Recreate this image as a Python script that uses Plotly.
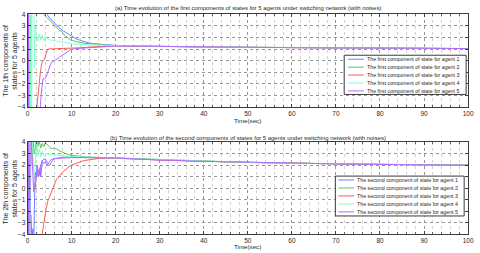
import plotly.graph_objects as go

W, H = 480, 253

# ---------------- data: first components (top panel) ----------------
a1_t = [0, 0.5, 1, 2, 3, 4, 4.6, 5, 6, 7, 8, 9, 10, 11, 12, 13, 14, 15, 17, 20, 25, 30, 40, 50, 60, 70, 80, 90, 100]
a1_y = [9, 8, 7.5, 6.5, 5.5, 4.5, 3.9, 3.7, 3.25, 2.9, 2.6, 2.35, 2.1, 1.9, 1.75, 1.62, 1.53, 1.47, 1.4, 1.32, 1.27, 1.23, 1.19, 1.16, 1.13, 1.1, 1.08, 1.06, 1.05]

a2_t = [0, 0.68, 0.72, 0.76, 1.2, 2, 3, 3.5, 4.5, 5.4, 6, 6.8, 7.3, 7.6, 8.3, 9, 9.8, 11, 12, 13, 15, 17, 20, 25, 30, 40, 50, 60, 70, 80, 90, 100]
a2_y = [30, -30, 30, 8, 7, 6, 4.8, 4.05, 3.7, 3.36, 3.05, 2.8, 2.55, 2.6, 2.24, 2.0, 1.8, 1.65, 1.55, 1.5, 1.45, 1.38, 1.31, 1.27, 1.23, 1.19, 1.16, 1.13, 1.1, 1.08, 1.06, 1.05]

a3_t = [0, 1, 2.0, 2.4, 2.9, 3.3, 3.6, 3.8, 4.2, 4.6, 5, 6, 8, 10, 12, 15, 20, 25, 30, 40, 50, 60, 70, 80, 90, 100]
a3_y = [-12, -8, -4, -2.5, -1.0, -0.1, 0.0, 0.1, 0.6, 1.0, 1.02, 1.03, 1.05, 1.08, 1.12, 1.2, 1.28, 1.25, 1.22, 1.19, 1.16, 1.13, 1.1, 1.08, 1.06, 1.05]

a4_t = [0.2, 0.35, 0.9, 1.05, 1.55, 1.7, 2.0, 2.3, 2.6, 3.0, 3.3, 3.7, 4.0, 4.5, 5, 6, 7, 8, 10, 12, 15, 20, 25, 30, 40, 50, 60, 70, 80, 90, 100]
a4_y = [-30, 30, -30, 30, -0.6, 3.0, 2.3, 1.7, 2.3, 1.8, 2.2, 1.7, 2.1, 1.9, 1.8, 1.75, 1.68, 1.6, 1.45, 1.4, 1.36, 1.31, 1.27, 1.23, 1.19, 1.16, 1.13, 1.1, 1.08, 1.06, 1.05]

a5_t = [0, 0.05, 0.1, 0.15, 0.2, 0.25, 0.3, 1, 2.5, 2.75, 3.1, 3.5, 3.8, 4.2, 4.8, 5.4, 6.1, 7, 8.3, 9.8, 11, 13, 15, 20, 25, 30, 40, 50, 60, 70, 80, 90, 100]
a5_y = [40, -40, 40, -40, 40, -40, -30, -15, -6, -4, -2.8, -1.55, -1.6, -1.4, -0.8, -0.15, 0.0, 0.25, 0.6, 0.97, 1.05, 1.1, 1.18, 1.27, 1.26, 1.23, 1.19, 1.16, 1.13, 1.1, 1.08, 1.06, 1.05]

# ---------------- data: second components (bottom panel) ----------------
b1_t = [0, 0.4, 0.6, 0.75, 1.0, 1.2, 1.4, 1.6, 1.8, 2.0, 2.2, 2.5, 2.8, 3.0, 3.3, 3.6, 4.0, 4.5, 5.0, 5.5, 6.0, 7, 8, 10, 12, 15, 20, 25, 30, 40, 50, 60, 70, 80, 90, 100]
b1_y = [10, 3, -3, -2.3, -4.5, -3.5, -5, -0.5, 0.5, 1.1, 2.0, 1.0, 1.8, 1.0, 2.3, 2.5, 2.55, 2.2, 2.0, 2.3, 2.55, 2.62, 2.68, 2.7, 2.68, 2.66, 2.62, 2.53, 2.45, 2.33, 2.24, 2.17, 2.11, 2.06, 2.03, 2.0]

b2_t = [0, 0.8, 1.0, 1.2, 1.5, 1.8, 2.0, 2.3, 2.6, 3.0, 3.3, 3.7, 4.0, 4.5, 5.0, 5.4, 6, 7, 8, 9.8, 12, 14, 17, 20, 25, 30, 40, 50, 60, 70, 80, 90, 100]
b2_y = [20, 8, 2.0, 4.5, 3.0, 3.5, 4.2, 3.6, 4.1, 3.5, 3.9, 3.6, 3.95, 3.8, 3.6, 3.4, 3.5, 3.3, 3.1, 2.85, 2.75, 2.7, 2.66, 2.62, 2.53, 2.45, 2.33, 2.24, 2.17, 2.11, 2.06, 2.03, 2.0]

b3_t = [0, 2, 3.3, 3.7, 4.2, 4.6, 5.4, 6.5, 8.0, 9.8, 12.8, 16.5, 20, 25, 30, 40, 50, 60, 70, 80, 90, 100]
b3_y = [-30, -10, -4, -2.8, -1.8, -1.1, -0.27, 0.72, 1.42, 1.98, 2.4, 2.6, 2.62, 2.53, 2.45, 2.33, 2.24, 2.17, 2.11, 2.06, 2.03, 2.0]

b4_t = [0, 0.9, 1.2, 1.5, 1.8, 2.1, 2.4, 2.7, 3.0, 3.4, 3.8, 4.2, 5, 6, 7, 8, 10, 12, 15, 20, 25, 30, 40, 50, 60, 70, 80, 90, 100]
b4_y = [-20, 6, 3.0, 0.8, 2.5, 3.8, 2.8, 3.4, 2.7, 3.2, 2.8, 3.0, 2.95, 2.9, 2.85, 2.8, 2.75, 2.72, 2.68, 2.62, 2.53, 2.45, 2.33, 2.24, 2.17, 2.11, 2.06, 2.03, 2.0]

b5_t = [0, 0.05, 0.1, 0.15, 0.2, 0.25, 0.3, 0.6, 0.9, 1.2, 1.4, 1.6, 1.8, 2.0, 2.2, 2.4, 2.6, 2.8, 3.0, 3.3, 3.6, 4.0, 4.4, 4.8, 5.4, 6, 7, 8, 10, 12, 15, 20, 25, 30, 40, 50, 60, 70, 80, 90, 100]
b5_y = [40, -40, 40, -40, 40, -40, 30, 6, 3.5, 1.0, -0.3, 0.2, 1.4, 0.9, 1.7, 1.0, 1.6, 1.1, 2.0, 2.4, 2.1, 2.3, 2.0, 2.2, 2.5, 2.55, 2.6, 2.62, 2.65, 2.66, 2.65, 2.62, 2.53, 2.45, 2.33, 2.24, 2.17, 2.11, 2.06, 2.03, 2.0]

colors = ["rgb(110,125,255)", "rgb(90,195,90)", "rgb(255,90,90)", "rgb(130,255,205)", "rgb(180,105,255)"]
top_names = ["The first component of state for agent %d" % i for i in range(1, 6)]
bot_names = ["The second component of state for agent %d" % i for i in range(1, 6)]
x_ticks = [0, 10, 20, 30, 40, 50, 60, 70, 80, 90, 100]
y_ticks = [-4, -3, -2, -1, 0, 1, 2, 3, 4]

FONT = "Liberation Sans, Arial, sans-serif"
TXT = "rgb(40,40,40)"

fig = go.Figure()
top = [(a1_t, a1_y), (a2_t, a2_y), (a3_t, a3_y), (a4_t, a4_y), (a5_t, a5_y)]
bot = [(b1_t, b1_y), (b2_t, b2_y), (b3_t, b3_y), (b4_t, b4_y), (b5_t, b5_y)]
for i, (t, y) in enumerate(top):
    fig.add_trace(go.Scatter(x=t, y=y, mode="lines", name=top_names[i], xaxis="x", yaxis="y",
                             line=dict(color=colors[i], width=1), showlegend=False))
for i, (t, y) in enumerate(bot):
    fig.add_trace(go.Scatter(x=t, y=y, mode="lines", name=bot_names[i], xaxis="x2", yaxis="y2",
                             line=dict(color=colors[i], width=1), showlegend=False))

def px_x(p):
    return p / W

def px_y(p):
    return 1 - p / H

top_dom = [px_y(106), px_y(10.7)]
bot_dom = [px_y(237), px_y(142)]
x_dom = [px_x(26), px_x(474)]

def xax(anchor, dom):
    return dict(domain=dom, anchor=anchor, range=[-0.001, 100.001], tickvals=x_ticks,
                ticktext=[str(v) for v in x_ticks],
                ticks="inside", ticklen=3, tickcolor="rgb(60,60,60)", mirror="ticks",
                showline=True, linecolor="rgb(60,60,60)", linewidth=1,
                showgrid=True, gridcolor="rgb(150,150,150)", griddash="dot", gridwidth=1,
                minor=dict(dtick=2, showgrid=True, gridcolor="rgb(210,210,210)", griddash="dot",
                           ticks="inside", ticklen=2, tickcolor="rgb(90,90,90)"),
                tickfont=dict(size=6.5, color=TXT, family=FONT), zeroline=False)

def yax(anchor, dom):
    return dict(domain=dom, anchor=anchor, range=[-4, 4], tickvals=y_ticks,
                ticks="inside", ticklen=3, tickcolor="rgb(60,60,60)", mirror="ticks",
                showline=True, linecolor="rgb(60,60,60)", linewidth=1,
                showgrid=True, gridcolor="rgb(150,150,150)", griddash="dot", gridwidth=1,
                tickfont=dict(size=6.5, color=TXT, family=FONT), zeroline=False)

annotations = []
shapes = []

def add_text(x, y, text, size, angle=0, xanchor="center"):
    annotations.append(dict(x=px_x(x), y=px_y(y), xref="paper", yref="paper", text=text,
                            showarrow=False, textangle=angle, xanchor=xanchor, yanchor="middle",
                            font=dict(size=size, color=TXT, family=FONT)))

add_text(250, 4.5, "(a) Time evolution of the first components of states for 5 agents under switching network (with noises)", 5.95)
add_text(250, 138, "(b) Time evolution of the second components of states for 5 agents under switching network (with noises)", 5.95)
add_text(250, 119.5, "Time(sec)", 6.2)
add_text(250, 249.5, "Time(sec)", 6.2)
add_text(8.5, 58, "The 1th components of<br>states for 5 agents", 7, angle=-90)
add_text(8.5, 189.5, "The 2th components of<br>states for 5 agents", 7, angle=-90)

def add_legend(box, y0, dy, lx0, lx1, tx, names):
    x0, y0b, x1, y1b = box
    shapes.append(dict(type="rect", xref="paper", yref="paper", x0=px_x(x0), x1=px_x(x1),
                       y0=px_y(y1b), y1=px_y(y0b), fillcolor="white",
                       line=dict(color="rgb(60,60,60)", width=1), layer="above"))
    for i, nm in enumerate(names):
        yy = y0 + i * dy
        shapes.append(dict(type="line", xref="paper", yref="paper", x0=px_x(lx0), x1=px_x(lx1),
                           y0=px_y(yy), y1=px_y(yy), line=dict(color=colors[i], width=1), layer="above"))
        add_text(tx, yy, nm, 5.3, xanchor="left")

add_legend((348, 52.7, 472, 93), 56.8, 8.15, 352, 368, 369, top_names)
add_legend((339, 177, 470, 218), 181, 8.2, 342, 358, 359, bot_names)

fig.update_layout(
    width=W, height=H, margin=dict(l=0, r=0, t=0, b=0),
    paper_bgcolor="white", plot_bgcolor="white",
    xaxis=xax("y", x_dom), yaxis=yax("x", top_dom),
    xaxis2=xax("y2", x_dom), yaxis2=yax("x2", bot_dom),
    annotations=annotations, shapes=shapes, showlegend=False,
)

fig.write_html("out.html", config={"displayModeBar": False},
               post_script="document.body.style.margin='0';document.body.style.padding='0';"
                           "document.documentElement.style.overflow='hidden';")
